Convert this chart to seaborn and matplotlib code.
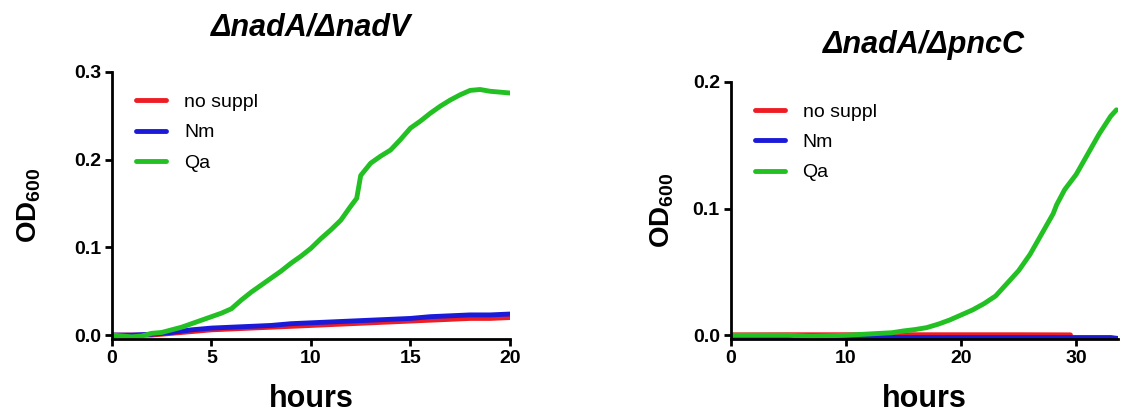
import pandas as pd
import matplotlib.pyplot as plt
import seaborn as sns

sns.set_style("ticks")
plt.rcParams['font.family'] = ['Liberation Sans', 'DejaVu Sans']
plt.rcParams['mathtext.fontset'] = 'custom'
plt.rcParams['mathtext.rm'] = 'Liberation Sans:bold'
plt.rcParams['mathtext.bf'] = 'Liberation Sans:bold'
plt.rcParams['mathtext.it'] = 'Liberation Sans:bold:italic'
plt.rcParams['text.color'] = 'black'
plt.rcParams['axes.labelcolor'] = 'black'
plt.rcParams['xtick.color'] = 'black'
plt.rcParams['ytick.color'] = 'black'

conditions = ['no suppl', 'Nm', 'Qa']
colors = {'no suppl': '#ee1c24', 'Nm': '#1a1ad8', 'Qa': '#22c022'}

# panel 1: nadA/nadV (hours 0..20)
t1 = [0, 0.5, 1, 1.5, 2, 2.5, 3, 3.5, 4, 4.5, 5, 5.5, 6, 6.5, 7, 7.5, 8, 8.5, 9, 9.5,
      10, 10.5, 11, 11.5, 12, 12.3, 12.5, 13, 13.5, 14, 14.5, 15, 15.5, 16, 16.5, 17,
      17.5, 18, 18.5, 19, 19.5, 20]
qa1 = [0.0, -0.001, -0.002, -0.001, 0.002, 0.003, 0.006, 0.009, 0.013, 0.017, 0.021, 0.025,
       0.030, 0.040, 0.049, 0.057, 0.065, 0.073, 0.082, 0.090, 0.099, 0.110, 0.120, 0.131,
       0.147, 0.156, 0.182, 0.196, 0.204, 0.211, 0.223, 0.236, 0.244, 0.253, 0.261, 0.268,
       0.274, 0.279, 0.280, 0.278, 0.277, 0.276]
t1b = [0, 1, 2, 3, 4, 5, 6, 7, 8, 9, 10, 11, 12, 13, 14, 15, 16, 17, 18, 19, 20]
nm1 = [0.0, 0.0, 0.001, 0.003, 0.006, 0.008, 0.009, 0.010, 0.011, 0.013, 0.014, 0.015,
       0.016, 0.017, 0.018, 0.019, 0.021, 0.022, 0.023, 0.023, 0.024]
ns1 = [0.0, 0.0, 0.0, 0.002, 0.004, 0.006, 0.007, 0.008, 0.009, 0.010, 0.011, 0.012,
       0.013, 0.014, 0.015, 0.016, 0.017, 0.018, 0.019, 0.019, 0.020]

# panel 2: nadA/pncC (hours 0..33.6)
t2 = [0, 5, 7, 10, 12, 14, 15, 16, 17, 18, 19, 20, 21, 22, 23, 24, 25, 26, 27, 28,
      28.3, 29, 30, 31, 32, 33, 33.5]
qa2 = [0.0, 0.0, -0.001, 0.0, 0.001, 0.002, 0.0034, 0.0045, 0.006, 0.0087, 0.012, 0.016,
       0.020, 0.025, 0.031, 0.041, 0.051, 0.064, 0.080, 0.096, 0.103, 0.115, 0.127, 0.143,
       0.159, 0.173, 0.178]
t2b = [0, 5, 10, 15, 20, 25, 29.5]
ns2 = [0.0003, 0.0004, 0.0004, 0.0004, 0.0004, 0.0004, 0.0003]
t2c = [0, 5, 10, 15, 20, 25, 30, 33, 33.6]
nm2 = [-0.0018, -0.0018, -0.0018, -0.0018, -0.0018, -0.0018, -0.0018, -0.0018, -0.0025]


def long_df(parts):
    frames = []
    for name, t, v in parts:
        frames.append(pd.DataFrame({'hours': t, 'OD': v, 'cond': name}))
    return pd.concat(frames, ignore_index=True)


df1 = long_df([('no suppl', t1b, ns1), ('Nm', t1b, nm1), ('Qa', t1, qa1)])
df2 = long_df([('no suppl', t2b, ns2), ('Nm', t2c, nm2), ('Qa', t2, qa2)])

fig = plt.figure(figsize=(11.21, 4.16), dpi=100)
ax1 = fig.add_axes([0.0999, 0.185, 0.355, 0.642])
ax2 = fig.add_axes([0.652, 0.185, 0.345, 0.618])


def style(ax, df, title, xlim, ylim, xticks, yticks, ypad, tpad):
    sns.lineplot(data=df, x='hours', y='OD', hue='cond', hue_order=conditions,
                 palette=colors, linewidth=3.5, ax=ax, estimator=None, sort=False)
    ax.set_xlim(*xlim)
    ax.set_ylim(*ylim)
    ax.set_xticks(xticks)
    ax.set_yticks(yticks)
    ax.set_xticklabels([str(x) for x in xticks], fontsize=14, fontweight='bold')
    ax.set_yticklabels([f"{y:.1f}" for y in yticks], fontsize=14, fontweight='bold')
    ax.tick_params(width=2, length=5, color='black', pad=3)
    for s in ['left', 'bottom']:
        ax.spines[s].set_linewidth(2)
        ax.spines[s].set_color('black')
    sns.despine(ax=ax)
    ax.set_xlabel('hours', fontsize=22, fontweight='bold', labelpad=12)
    ax.set_ylabel(r'$\mathrm{OD}_{\mathrm{600}}$', fontsize=20, labelpad=ypad)
    ax.set_title(title, fontsize=22, fontweight='bold', fontstyle='italic', pad=tpad)
    ax.legend(title=None, frameon=False, loc='upper left', bbox_to_anchor=(0.017, 0.985),
              fontsize=14, handlelength=1.55, handletextpad=0.9, labelspacing=0.65)


style(ax1, df1, '\u0394nadA/\u0394nadV',
      (0, 20), (-0.0045, 0.3), [0, 5, 10, 15, 20], [0.0, 0.1, 0.2, 0.3], 22, 26)
style(ax2, df2, '\u0394nadA/\u0394pncC',
      (0, 33.6), (-0.003, 0.2), [0, 10, 20, 30], [0.0, 0.1, 0.2], 12, 21)

fig.savefig('out.png', dpi=100)
